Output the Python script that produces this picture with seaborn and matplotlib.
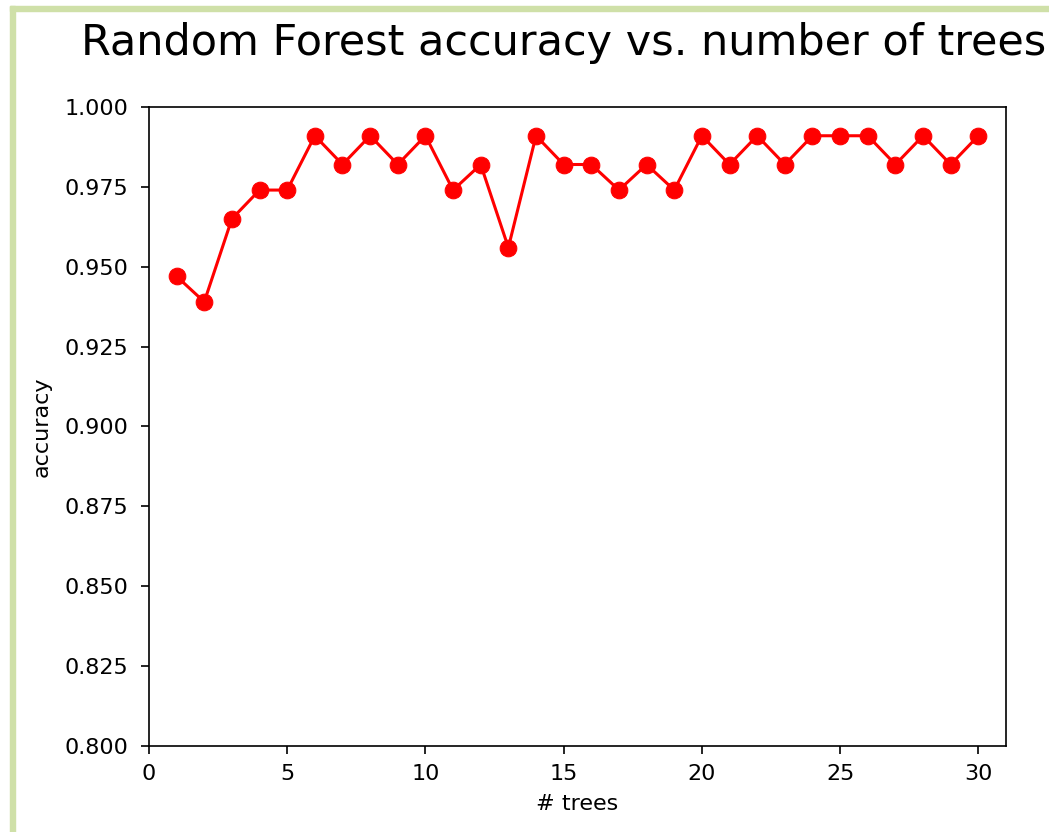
import matplotlib
matplotlib.use("Agg")
import matplotlib.pyplot as plt
import seaborn as sns
import pandas as pd
from matplotlib.patches import Rectangle

# Accuracy per forest size
n_trees = list(range(1, 31))
accuracy = [0.947, 0.939, 0.965, 0.974, 0.974, 0.991, 0.982, 0.991, 0.982, 0.991,
            0.974, 0.982, 0.956, 0.991, 0.982, 0.982, 0.974, 0.982, 0.974, 0.991,
            0.982, 0.991, 0.982, 0.991, 0.991, 0.991, 0.982, 0.991, 0.982, 0.991]
y_ticks = [0.800, 0.825, 0.850, 0.875, 0.900, 0.925, 0.950, 0.975, 1.000]

df = pd.DataFrame({"trees": n_trees, "accuracy": accuracy})

fig = plt.figure(figsize=(10.49, 8.32), dpi=100)
ax = fig.add_axes([0.142, 0.1034, 0.817, 0.768])

sns.lineplot(data=df, x="trees", y="accuracy", ax=ax, color="red",
             marker="o", markersize=12, markeredgecolor="red", linewidth=2.2)

ax.set_xlim(0, 31)
ax.set_ylim(0.8, 1.0)
ax.set_yticks(y_ticks)
ax.set_yticklabels([f"{t:.3f}" for t in y_ticks])
ax.set_xticks([0, 5, 10, 15, 20, 25, 30])
ax.tick_params(labelsize=16, length=6, width=1.2)
ax.tick_params(axis="y", pad=9)
ax.tick_params(axis="x", pad=7)
for s in ax.spines.values():
    s.set_linewidth(1.2)
ax.set_xlabel("# trees", fontsize=16, labelpad=7)
ax.set_ylabel("accuracy", fontsize=16, labelpad=9)
fig.text(0.537, 0.948, "Random Forest accuracy vs. number of trees",
         fontsize=31, ha="center", va="center")

# green page border on left and top
border = "#cfe0a8"
fig.patches.append(Rectangle((10 / 1049, 0), 5 / 1049, 1 - 6 / 832,
                             transform=fig.transFigure, color=border, zorder=0))
fig.patches.append(Rectangle((10 / 1049, 1 - 11 / 832), 1, 5 / 832,
                             transform=fig.transFigure, color=border, zorder=0))

fig.savefig("out.png", dpi=100)
